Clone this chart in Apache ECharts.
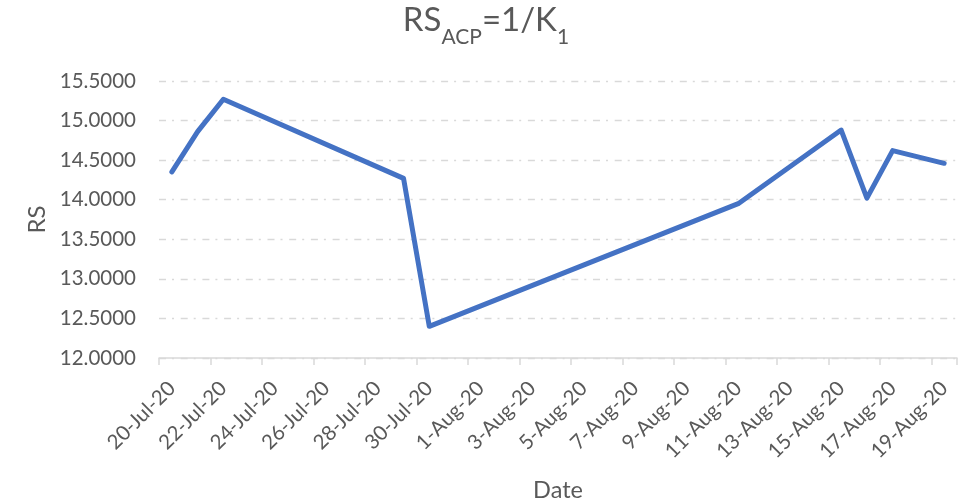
<!DOCTYPE html>
<html>
<head>
<meta charset="utf-8">
<script src="https://cdn.jsdelivr.net/npm/echarts@6/dist/echarts.min.js"></script>
<style>
  html, body { margin: 0; padding: 0; background: #ffffff; }
  #chart { width: 972px; height: 502px; }
</style>
</head>
<body>
<div id="chart"></div>
<script>
// Measurement days and the RS value recorded on each of them
const sampleDates = ['2020-07-20', '2020-07-21', '2020-07-22', '2020-07-29', '2020-07-30',
                     '2020-08-11', '2020-08-15', '2020-08-16', '2020-08-17', '2020-08-19'];
const rsValues = [14.353, 14.86, 15.27, 14.27, 12.40, 13.95, 14.88, 14.02, 14.62, 14.46];

// Y axis range
const yMin = 12, yMax = 15.5, yStep = 0.5;

const MONTHS = ['Jan', 'Feb', 'Mar', 'Apr', 'May', 'Jun', 'Jul', 'Aug', 'Sep', 'Oct', 'Nov', 'Dec'];
function dayLabel(d) {
  return d.getUTCDate() + '-' + MONTHS[d.getUTCMonth()] + '-' + String(d.getUTCFullYear()).slice(2);
}
function parseDay(s) {
  const p = s.split('-').map(Number);
  return new Date(Date.UTC(p[0], p[1] - 1, p[2]));
}

// One axis slot per calendar day, from the first to the last measurement
const allDays = [];
for (let t = parseDay(sampleDates[0]).getTime(); t <= parseDay(sampleDates[sampleDates.length - 1]).getTime(); t += 86400000) {
  allDays.push(dayLabel(new Date(t)));
}
const seriesData = sampleDates.map((s, i) => [dayLabel(parseDay(s)), rsValues[i]]);

const FONT = 'Lato';
const GREY = '#595959';
const LIGHT = '#d9d9d9';

const chart = echarts.init(document.getElementById('chart'), null, { renderer: 'canvas' });
chart.setOption({
  animation: false,
  backgroundColor: '#ffffff',
  title: {
    text: '{m|RS}{s|ACP}{m|=1/K}{s|1}',
    left: 'center',
    top: 4,
    padding: 0,
    textStyle: {
      fontWeight: 'normal',
      rich: {
        m: { fontFamily: FONT, fontSize: 33, fontWeight: 'normal', color: GREY, lineHeight: 44, verticalAlign: 'top' },
        s: { fontFamily: FONT, fontSize: 21, fontWeight: 'normal', color: GREY, lineHeight: 17, verticalAlign: 'bottom' }
      }
    }
  },
  grid: { left: 159, right: 15, top: 81, bottom: 144, containLabel: false, outerBoundsMode: 'none' },
  xAxis: {
    type: 'category',
    data: allDays,
    boundaryGap: true,
    name: 'Date',
    nameLocation: 'middle',
    nameGap: 120,
    nameTextStyle: { fontFamily: FONT, fontSize: 23.5, color: GREY },
    axisLine: { lineStyle: { color: LIGHT, width: 1.5 } },
    axisTick: { show: true, interval: 1, length: 7, lineStyle: { color: LIGHT, width: 1.5 } },
    axisLabel: { interval: 1, rotate: 45, margin: 27, fontFamily: FONT, fontSize: 20.5, color: GREY },
    splitLine: { show: false }
  },
  yAxis: {
    type: 'value',
    min: yMin,
    max: yMax,
    interval: yStep,
    name: 'RS',
    nameLocation: 'middle',
    nameRotate: 90,
    nameGap: 110,
    nameTextStyle: { fontFamily: FONT, fontSize: 24, color: GREY },
    axisLine: { show: false },
    axisTick: { show: false },
    axisLabel: { margin: 23, fontFamily: FONT, fontSize: 20.5, color: GREY, formatter: v => v.toFixed(4) },
    splitLine: { lineStyle: { color: LIGHT, width: 1.3, type: [7, 6, 2, 6.7] } }
  },
  series: [{
    type: 'line',
    data: seriesData,
    showSymbol: false,
    symbol: 'none',
    connectNulls: true,
    lineStyle: { color: '#4472C4', width: 5, cap: 'round', join: 'round' }
  }]
});
</script>
</body>
</html>
